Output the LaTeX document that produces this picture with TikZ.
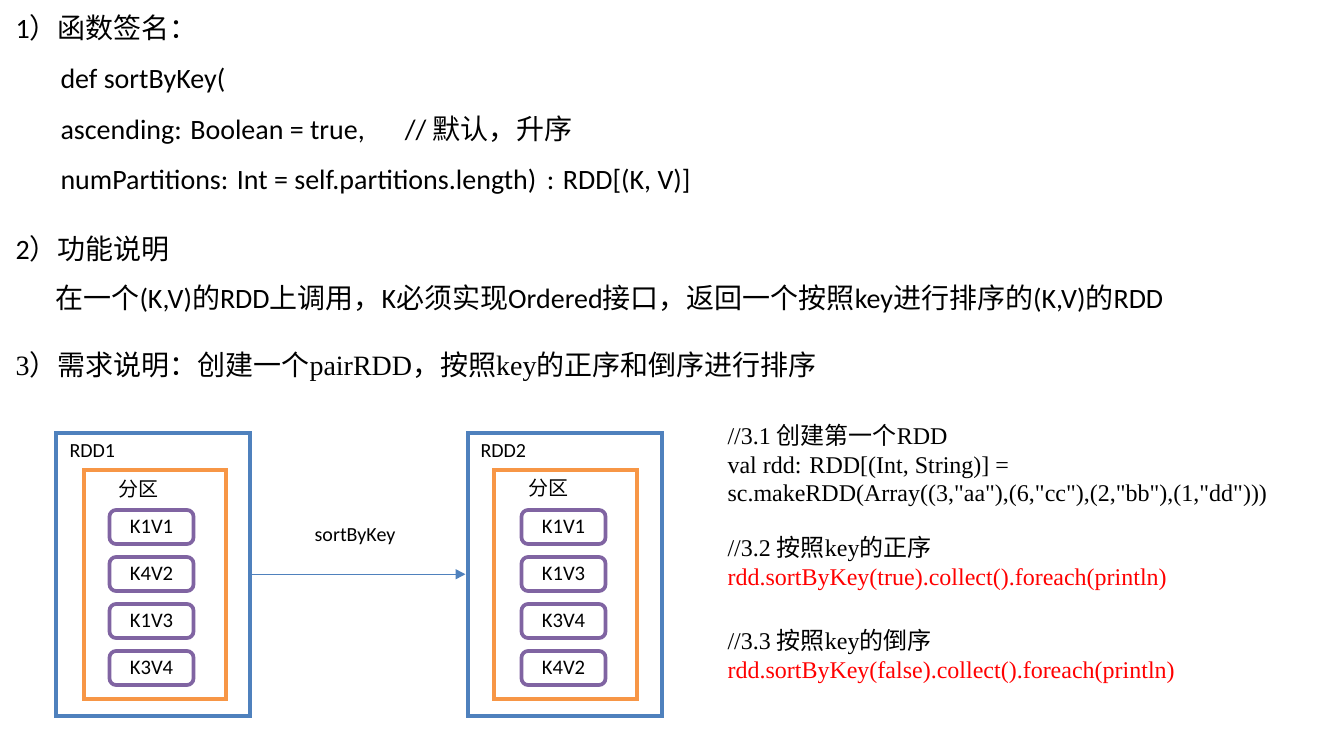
\documentclass[tikz,border=0pt]{standalone}
\usepackage{fontspec}
\setmainfont{Carlito}
\newfontfamily\cjk{Noto Sans CJK SC}
\newfontfamily\tnr{Liberation Serif}
\usetikzlibrary{arrows.meta}
\newcommand{\zhtxt}[1]{{\cjk #1}}
\definecolor{rddblue}{RGB}{79,129,189}
\definecolor{partorange}{RGB}{247,150,70}
\definecolor{kvpurple}{RGB}{128,100,162}

\tikzset{every picture/.style={line width=0.75pt}}
\tikzset{
  body/.style={anchor=base west, inner sep=0pt, font=\fontsize{21}{25}\selectfont},
  code/.style={anchor=base west, inner sep=0pt, font=\tnr\fontsize{18}{21}\selectfont},
  lbl/.style={anchor=base west, inner sep=0pt, font=\fontsize{15}{18}\selectfont},
  rddbox/.style={draw=rddblue, line width=3pt, minimum width=145.5pt, minimum height=212.5pt, inner sep=0pt},
  partbox/.style={draw=partorange, line width=3pt, minimum width=107pt, minimum height=172pt, inner sep=0pt},
  kvbox/.style={draw=kvpurple, line width=2.8pt, rounded corners=5pt, minimum width=63pt, minimum height=25.5pt, inner sep=0pt, font=\fontsize{15.5}{18}\selectfont},
}

\begin{document}
\begin{tikzpicture}[x=0.75pt,y=0.75pt,yscale=-1,xscale=1]
	\useasboundingbox (0,0) rectangle (1338,730);

	% Text Node
	\node [body] (head1) at (15,39) {1\zhtxt{）函数签名：}};
	% Text Node
	\node [body] (sig1) at (60,89) {def sortByKey(};
	% Text Node
	\node [body] (sig2) at (60,140) {ascending: Boolean = true,\hspace{30pt}// \zhtxt{默认，升序}};
	% Text Node
	\node [body] (sig3) at (60,190) {numPartitions: Int = self.partitions.length)\hspace{8pt}: RDD[(K, V)]};
	% Text Node
	\node [body] (head2) at (15,260) {2\zhtxt{）功能说明}};
	% Text Node
	\node [body] (desc) at (55,309) {\zhtxt{在一个}(K,V)\zhtxt{的}RDD\zhtxt{上调用，}K\zhtxt{必须实现}Ordered\zhtxt{接口，返回一个按照}key\zhtxt{进行排序的}(K,V)\zhtxt{的}RDD};
	% Text Node
	\node [body] (head3) at (15,376) {\tnr 3\zhtxt{）需求说明：创建一个}pairRDD\zhtxt{，按照}key\zhtxt{的正序和倒序进行排序}};

	%Shape: Rectangle [id:rdd1]
	\node [rddbox] (rdd1) at (153,574.25) {};
	%Shape: Rectangle [id:part1]
	\node [partbox] (part1) at (155,584.5) {};
	% Text Node
	\node [lbl] (rdd1lbl) at (69,458) {RDD1};
	% Text Node
	\node [lbl] (part1lbl) at (118,496) {\zhtxt{分区}};
	%Rounded Rect [id:kva1]
	\node [kvbox] (kva1) at (151.5,527) {K1V1};
	%Rounded Rect [id:kva2]
	\node [kvbox] (kva2) at (151.5,574) {K4V2};
	%Rounded Rect [id:kva3]
	\node [kvbox] (kva3) at (151.5,621) {K1V3};
	%Rounded Rect [id:kva4]
	\node [kvbox] (kva4) at (151.5,668) {K3V4};

	%Shape: Rectangle [id:rdd2]
	\node [rddbox] (rdd2) at (564.5,574.25) {};
	%Shape: Rectangle [id:part2]
	\node [partbox] (part2) at (565.5,584.5) {};
	% Text Node
	\node [lbl] (rdd2lbl) at (480,458) {RDD2};
	% Text Node
	\node [lbl] (part2lbl) at (528,495) {\zhtxt{分区}};
	%Rounded Rect [id:kvb1]
	\node [kvbox] (kvb1) at (563.5,527) {K1V1};
	%Rounded Rect [id:kvb2]
	\node [kvbox] (kvb2) at (563.5,574) {K1V3};
	%Rounded Rect [id:kvb3]
	\node [kvbox] (kvb3) at (563.5,621) {K3V4};
	%Rounded Rect [id:kvb4]
	\node [kvbox] (kvb4) at (563.5,668) {K4V2};

	%Straight Lines [id:sortarrow]
	\draw [draw=rddblue, line width=1.1pt, -{Triangle[length=7.5pt,width=7.5pt]}] (rdd1.east) -- (rdd2.west);
	% Text Node
	\node [font=\fontsize{15}{18}\selectfont, inner sep=0pt] (sortlbl) at (355,537) {sortByKey};

	% Text Node
	\node [code] (c1) at (727,445) {//3.1 \zhtxt{创建第一个}RDD};
	% Text Node
	\node [code] (c2) at (727,474) {val rdd: RDD[(Int, String)] =};
	% Text Node
	\node [code] (c3) at (727,502) {sc.makeRDD(Array((3,"aa"),(6,"cc"),(2,"bb"),(1,"dd")))};
	% Text Node
	\node [code] (c4) at (727,556) {//3.2 \zhtxt{按照}key\zhtxt{的正序}};
	% Text Node
	\node [code, text=red] (c5) at (727,585) {rdd.sortByKey(true).collect().foreach(println)};
	% Text Node
	\node [code] (c6) at (727,649) {//3.3 \zhtxt{按照}key\zhtxt{的倒序}};
	% Text Node
	\node [code, text=red] (c7) at (727,678) {rdd.sortByKey(false).collect().foreach(println)};

\end{tikzpicture}
\end{document}
